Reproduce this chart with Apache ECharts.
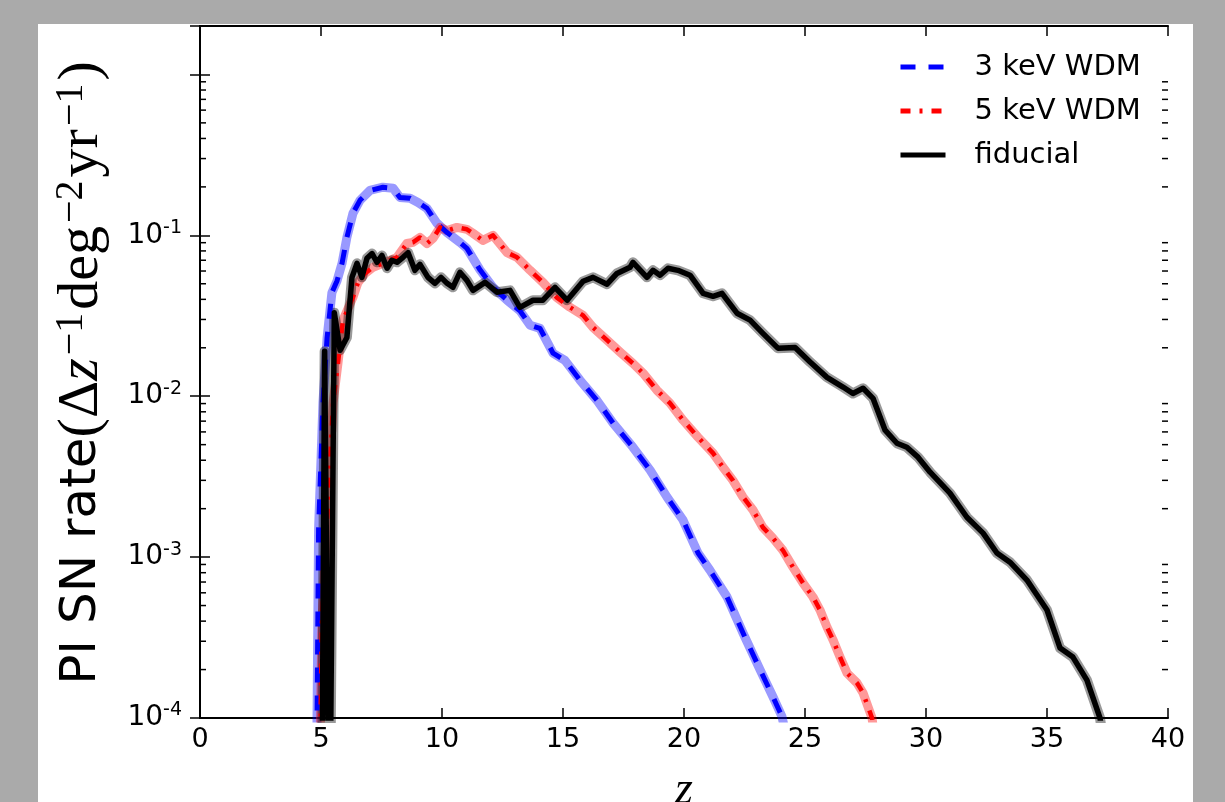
<!DOCTYPE html>
<html>
<head>
<meta charset="utf-8">
<script src="https://cdn.jsdelivr.net/npm/echarts@6/dist/echarts.min.js"></script>
<style>
    html, body { margin: 0; padding: 0; background: #aaaaaa; }
    #main { width: 1225px; height: 802px; }
</style>
</head>
<body>
<div id="main"></div>
<script>
// x ticks (redshift) and y decades
const xTicks = [0, 5, 10, 15, 20, 25, 30, 35, 40];
const yDecades = [1e-4, 1e-3, 1e-2, 1e-1, 1];

// 3 keV WDM  [z, rate]
const wdm3 = [
    [4.82, 5e-5], [4.9, 1.5e-3], [5.0, 4e-3], [5.08, 9.1e-3], [5.25, 0.023], [5.45, 0.044],
    [5.66, 0.052], [5.87, 0.067], [6.07, 0.097], [6.32, 0.137], [6.61, 0.165], [7.02, 0.19],
    [7.56, 0.199], [7.98, 0.196], [8.26, 0.172], [8.68, 0.170], [9.01, 0.160], [9.38, 0.147],
    [9.79, 0.119], [10.21, 0.104], [10.74, 0.0905], [11.03, 0.083], [11.57, 0.061], [12.11, 0.0475],
    [12.69, 0.0395], [13.22, 0.034], [13.64, 0.0276], [14.05, 0.0264], [14.59, 0.0185], [15.08, 0.0167],
    [15.70, 0.0126], [16.40, 0.00944], [17.07, 0.0068], [17.89, 0.00482], [18.60, 0.00347], [19.30, 0.00236],
    [19.96, 0.0017], [20.58, 0.00106], [21.07, 0.00083], [21.78, 0.000565], [22.44, 0.000337], [23.14, 0.0002],
    [23.68, 0.000135], [24.05, 0.000102], [24.2, 8e-5]
];

// 5 keV WDM
const wdm5 = [
    [4.95, 5e-5], [5.04, 4e-4], [5.25, 1.7e-3], [5.5, 0.0091], [5.7, 0.016], [5.91, 0.0297],
    [6.32, 0.0412], [6.53, 0.051], [6.82, 0.058], [7.15, 0.0633], [7.56, 0.067], [8.14, 0.073],
    [8.55, 0.089], [8.80, 0.0905], [9.09, 0.097], [9.38, 0.089], [9.63, 0.0957], [9.92, 0.112],
    [10.21, 0.107], [10.62, 0.112], [11.03, 0.109], [11.28, 0.103], [11.69, 0.093], [12.11, 0.1],
    [12.69, 0.078], [13.10, 0.073], [13.64, 0.0606], [14.17, 0.051], [14.75, 0.041], [15.29, 0.0357],
    [15.83, 0.0318], [16.24, 0.0268], [16.82, 0.0223], [17.36, 0.0188], [17.89, 0.016], [18.31, 0.0139],
    [18.88, 0.0109], [19.42, 0.00906], [19.96, 0.0071], [20.58, 0.00556], [21.20, 0.00443], [21.61, 0.00362],
    [22.02, 0.003], [22.44, 0.00236], [22.85, 0.00196], [23.26, 0.00153], [23.68, 0.00131], [24.09, 0.0011],
    [24.50, 0.000867], [24.92, 0.00069], [25.33, 0.000565], [25.62, 0.000469], [25.91, 0.000367], [26.16, 0.000305],
    [26.45, 0.000239], [26.74, 0.00019], [27.15, 0.000165], [27.40, 0.000143], [27.77, 0.0001], [27.9, 7e-5]
];

// fiducial
const fiducial = [
    [5.02, 1e-5], [5.15, 0.019], [5.35, 1e-5], [5.55, 0.033], [5.79, 0.0193], [6.07, 0.0232],
    [6.28, 0.0548], [6.49, 0.067], [6.69, 0.0548], [6.90, 0.072], [7.11, 0.077], [7.31, 0.068],
    [7.52, 0.075], [7.73, 0.0624], [7.93, 0.07], [8.14, 0.068], [8.39, 0.073], [8.60, 0.078],
    [8.88, 0.0606], [9.09, 0.066], [9.42, 0.0548], [9.71, 0.0503], [9.96, 0.0548], [10.21, 0.0503],
    [10.45, 0.0475], [10.74, 0.0589], [11.03, 0.0525], [11.28, 0.0455], [11.78, 0.051], [12.27, 0.0443],
    [12.81, 0.0455], [13.22, 0.0357], [13.76, 0.0395], [14.17, 0.0395], [14.67, 0.0475], [15.17, 0.0395],
    [15.83, 0.0518], [16.24, 0.0548], [16.82, 0.0497], [17.23, 0.058], [17.77, 0.0633], [17.89, 0.068],
    [18.47, 0.0548], [18.72, 0.0606], [19.01, 0.0565], [19.34, 0.0624], [19.75, 0.0606], [20.25, 0.0565],
    [20.79, 0.0436], [21.20, 0.0418], [21.57, 0.0436], [22.19, 0.0328], [22.73, 0.0297], [23.26, 0.0246],
    [23.88, 0.0199], [24.59, 0.0201], [25.21, 0.0163], [25.91, 0.0131], [26.57, 0.0114], [26.98, 0.0104],
    [27.40, 0.0112], [27.81, 0.0097], [28.31, 0.00615], [28.80, 0.0051], [29.21, 0.00482], [29.67, 0.00418],
    [30.17, 0.00337], [30.99, 0.0025], [31.69, 0.00177], [32.36, 0.00141], [32.93, 0.00106], [33.47, 0.00093],
    [34.17, 0.00072], [35.0, 0.000469], [35.54, 0.000272], [36.07, 0.000239], [36.65, 0.000172], [37.19, 0.0001],
    [37.4, 6e-5]
];

const names = ['3 keV WDM', '5 keV WDM', 'fiducial'];
const colors = ['#0000ff', '#ff0000', '#000000'];
const dashes = [[15, 13], [10, 9, 3, 9], 'solid'];
const widths = [5, 4.5, 5.5];

// log minor tick values 2..9 x 10^k
const minorTicks = [];
yDecades.slice(0, 4).forEach(d => {
    for (let m = 2; m <= 9; m++) {
        minorTicks.push(m * d);
    }
});

const myChart = echarts.init(document.getElementById('main'));

function band(data, color, width) {
    return {
        type: 'line',
        name: 'band',
        data: data,
        symbol: 'none',
        silent: true,
        lineStyle: { color: color, width: width, join: 'round', cap: 'butt' },
        z: 2
    };
}

function curve(i, data) {
    return {
        type: 'line',
        name: names[i],
        data: data,
        symbol: 'none',
        lineStyle: { color: colors[i], width: widths[i], type: dashes[i], join: 'round', cap: 'butt' },
        z: 3
    };
}

const axisLine = { show: true, lineStyle: { color: '#000', width: 2 } };
const tickStyle = { show: true, inside: true, length: 10, lineStyle: { color: '#000', width: 1.5 } };

const option = {
    backgroundColor: '#aaaaaa',
    animation: false,
    graphic: [
        {
            id: 'panel',
            type: 'rect',
            z: -10,
            silent: true,
            shape: { x: 38, y: 24, width: 1155, height: 800 },
            style: { fill: '#ffffff' }
        },
        {
            id: 'ylabel',
            type: 'text',
            x: 82,
            y: 373,
            rotation: Math.PI / 2,
            silent: true,
            style: {
                text: '{a|PI SN rate}{m|(Δ}{i|z}{s|−1}{m|deg}{s|−2}{m|yr}{s|−1}{m|)}',
                align: 'center',
                verticalAlign: 'middle',
                fill: '#000',
                rich: {
                    a: { fontFamily: 'DejaVu Sans', fontSize: 50, lineHeight: 62 },
                    m: { fontFamily: 'Liberation Serif', fontSize: 58, lineHeight: 62 },
                    i: { fontFamily: 'Liberation Serif', fontStyle: 'italic', fontSize: 58, lineHeight: 62 },
                    s: { fontFamily: 'Liberation Serif', fontSize: 40, lineHeight: 34, verticalAlign: 'top', padding: [0, 3, 0, 3] }
                }
            }
        }
    ],
    grid: { left: 200, right: 57, top: 26, bottom: 84, outerBoundsMode: 'none', containLabel: false },
    legend: {
        data: names.map((n, i) => ({
            name: n,
            lineStyle: { color: colors[i], width: 5, type: dashes[i] }
        })),
        orient: 'vertical',
        left: 893,
        top: 45,
        itemWidth: 45,
        itemHeight: 14,
        itemGap: 10,
        selectedMode: false,
        itemStyle: { opacity: 0 },
        textStyle: {
            fontFamily: 'DejaVu Sans',
            fontSize: 29,
            color: '#000',
            lineHeight: 34,
            padding: [0, 0, 0, 24]
        }
    },
    xAxis: [
        {
            type: 'value',
            min: xTicks[0],
            max: xTicks[xTicks.length - 1],
            interval: 5,
            position: 'bottom',
            axisLine: axisLine,
            axisTick: tickStyle,
            splitLine: { show: false },
            axisLabel: { fontFamily: 'DejaVu Sans', fontSize: 27, color: '#000', margin: 8 },
            name: 'z',
            nameLocation: 'middle',
            nameGap: 50,
            nameTextStyle: { fontFamily: 'Liberation Serif', fontStyle: 'italic', fontSize: 46, color: '#000' }
        },
        {
            type: 'value',
            min: xTicks[0],
            max: xTicks[xTicks.length - 1],
            interval: 5,
            position: 'top',
            axisLine: axisLine,
            axisTick: tickStyle,
            splitLine: { show: false },
            axisLabel: { show: false }
        }
    ],
    yAxis: [
        {
            type: 'log',
            logBase: 10,
            min: yDecades[0],
            max: 2,
            position: 'left',
            axisLine: axisLine,
            axisTick: tickStyle,
            splitLine: { show: false },
            axisLabel: {
                margin: 18,
                formatter: function (v) {
                    const l = Math.log10(v);
                    const e = Math.round(l);
                    if (Math.abs(l - e) > 0.01 || e >= 0) return '';
                    return '{b|10}{s|' + e + '}';
                },
                rich: {
                    b: { fontFamily: 'DejaVu Sans', fontSize: 28, color: '#000', lineHeight: 34 },
                    s: { fontFamily: 'DejaVu Sans', fontSize: 19, color: '#000', lineHeight: 20, verticalAlign: 'top' }
                }
            }
        },
        {
            type: 'log',
            logBase: 10,
            min: yDecades[0],
            max: 2,
            position: 'right',
            axisLine: axisLine,
            axisTick: tickStyle,
            splitLine: { show: false },
            axisLabel: { show: false }
        }
    ],
    series: [
        band(wdm3, 'rgba(0,0,255,0.4)', 9),
        curve(0, wdm3),
        band(wdm5, 'rgba(255,0,0,0.4)', 9),
        curve(1, wdm5),
        band(fiducial, 'rgba(0,0,0,0.4)', 10),
        curve(2, fiducial)
    ]
};

myChart.setOption(option);

// minor ticks on both y axes, placed through the axis scales
const xl = myChart.convertToPixel({ xAxisIndex: 0 }, xTicks[0]);
const xr = myChart.convertToPixel({ xAxisIndex: 0 }, xTicks[xTicks.length - 1]);
const tickEls = [];
minorTicks.forEach((v, i) => {
    const y = myChart.convertToPixel({ yAxisIndex: 0 }, v);
    tickEls.push({
        id: 'mtl' + i, type: 'line', z: 100, silent: true,
        shape: { x1: xl, y1: y, x2: xl + 6, y2: y },
        style: { stroke: '#000', lineWidth: 1.5 }
    });
    tickEls.push({
        id: 'mtr' + i, type: 'line', z: 100, silent: true,
        shape: { x1: xr - 6, y1: y, x2: xr, y2: y },
        style: { stroke: '#000', lineWidth: 1.5 }
    });
});
myChart.setOption({ graphic: tickEls });
</script>
</body>
</html>
